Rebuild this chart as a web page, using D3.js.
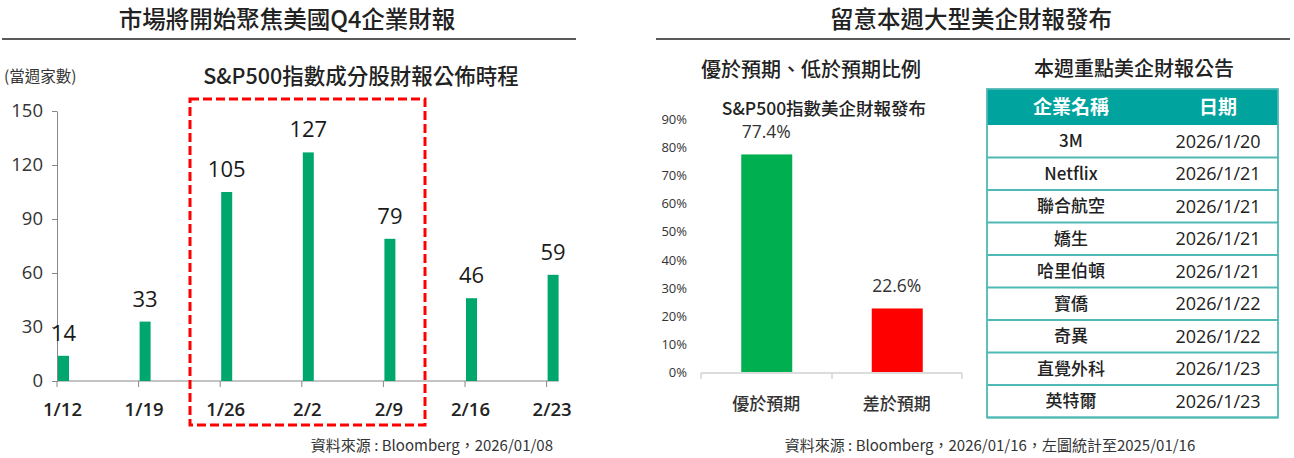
<!DOCTYPE html>
<html>
<head>
<meta charset="utf-8">
<script src="https://cdn.jsdelivr.net/npm/d3@7"></script>
<style>
  body { margin: 0; background: #fff; }
  svg text { font-family: "Noto Sans CJK TC", "Noto Sans", sans-serif; }
</style>
</head>
<body>
<div id="chart"></div>
<script>
////////////////////////////////////////////////////////////////////////
// Data

let weeks = ["1/12", "1/19", "1/26", "2/2", "2/9", "2/16", "2/23"];
let weekCounts = [14, 33, 105, 127, 79, 46, 59];
let countTicks = [0, 30, 60, 90, 120, 150];

let surpriseCats = ["優於預期", "差於預期"];
let surpriseShare = [77.4, 22.6];
let shareTicks = [0, 10, 20, 30, 40, 50, 60, 70, 80, 90];

let companies = ["3M", "Netflix", "聯合航空", "嬌生", "哈里伯頓", "寶僑", "奇異", "直覺外科", "英特爾"];
let reportDates = ["2026/1/20", "2026/1/21", "2026/1/21", "2026/1/21", "2026/1/21",
                   "2026/1/22", "2026/1/22", "2026/1/23", "2026/1/23"];

////////////////////////////////////////////////////////////////////////
// Preliminaries

let svg = d3.select("#chart").append("svg")
  .attr("width", 1294)
  .attr("height", 458);

let latin = "'Open Sans', 'Noto Sans', sans-serif";

function headline(x, y, txt, size, weight) {
  return svg.append("text")
    .attr("x", x).attr("y", y)
    .attr("text-anchor", "middle")
    .attr("font-size", size)
    .attr("font-weight", weight || "normal")
    .attr("fill", "#222")
    .text(txt);
}

// panel titles + rules
headline(287, 28, "市場將開始聚焦美國Q4企業財報", 23.5, "500");
svg.append("line").attr("x1", 2).attr("x2", 576).attr("y1", 39).attr("y2", 39)
  .attr("stroke", "#222").attr("stroke-width", 1.3);
headline(971, 28, "留意本週大型美企財報發布", 23.5, "500");
svg.append("line").attr("x1", 656).attr("x2", 1290).attr("y1", 39).attr("y2", 39)
  .attr("stroke", "#222").attr("stroke-width", 1.3);

////////////////////////////////////////////////////////////////////////
// PART 1 : weekly count bars

let xWeek = d3.scaleBand().domain(weeks).range([57, 57 + 7 * 81.6]);
let yCount = d3.scaleLinear().domain([0, 150]).range([381, 111]);
let barW = 11;

headline(361, 84, "S&P500指數成分股財報公佈時程", 21.5, "500");
svg.append("text").attr("x", 4).attr("y", 82)
  .attr("font-size", 15.5).attr("fill", "#333").text("(當週家數)");

let yAxisL = svg.append("g")
  .attr("transform", "translate(57,0)")
  .call(d3.axisLeft(yCount).tickValues(countTicks).tickSize(5).tickSizeOuter(0));
yAxisL.select(".domain").attr("stroke", "#888");
yAxisL.selectAll(".tick line").attr("stroke", "#888");
yAxisL.selectAll(".tick text")
  .attr("x", -14)
  .attr("font-size", 18.5)
  .attr("fill", "#333")
  .style("font-family", latin);

// x axis line and ticks at the left edge of each bar
let lastX = xWeek(weeks[weeks.length - 1]) + barW + 1;
svg.append("line").attr("x1", 57).attr("x2", lastX)
  .attr("y1", yCount(0)).attr("y2", yCount(0)).attr("stroke", "#888");
svg.append("g").selectAll("line").data(weeks).enter().append("line")
  .attr("x1", d => xWeek(d)).attr("x2", d => xWeek(d))
  .attr("y1", yCount(0)).attr("y2", yCount(0) + 6)
  .attr("stroke", "#888");
svg.append("g").selectAll("text").data(weeks).enter().append("text")
  .attr("x", d => xWeek(d) + barW / 2)
  .attr("y", 416)
  .attr("text-anchor", "middle")
  .attr("font-size", 18.5)
  .attr("font-weight", 600)
  .attr("fill", "#222")
  .style("font-family", latin)
  .text(d => d);

svg.append("g").selectAll("rect").data(weekCounts).enter().append("rect")
  .attr("x", (d, i) => xWeek(weeks[i]) + 1)
  .attr("y", d => yCount(d))
  .attr("width", barW)
  .attr("height", d => yCount(0) - yCount(d))
  .attr("fill", "#00a76d");

svg.append("g").selectAll("text").data(weekCounts).enter().append("text")
  .attr("x", (d, i) => xWeek(weeks[i]) + barW / 2 + 1)
  .attr("y", d => yCount(d) - 15)
  .attr("text-anchor", "middle")
  .attr("font-size", 22)
  .attr("fill", "#1a1a1a")
  .style("font-family", latin)
  .text(d => d);

// highlight box round 1/26 .. 2/9
svg.append("rect")
  .attr("x", 190).attr("y", 99)
  .attr("width", 235).attr("height", 326)
  .attr("fill", "none")
  .attr("stroke", "#ff0000")
  .attr("stroke-width", 3)
  .attr("stroke-dasharray", "9,4");

svg.append("text").attr("x", 553).attr("y", 451)
  .attr("text-anchor", "end").attr("font-size", 15).attr("fill", "#333")
  .text("資料來源 : Bloomberg，2026/01/08");

////////////////////////////////////////////////////////////////////////
// PART 2 : beat / miss share

headline(811, 77, "優於預期、低於預期比例", 20, "500");
headline(824, 115, "S&P500指數美企財報發布", 17.5, "500");

let xCat = d3.scaleBand().domain(surpriseCats).range([701, 962]);
let yShare = d3.scaleLinear().domain([0, 90]).range([372, 119]);

svg.append("g").selectAll("text").data(shareTicks).enter().append("text")
  .attr("x", 687)
  .attr("y", d => yShare(d) + 5)
  .attr("text-anchor", "end")
  .attr("font-size", 13)
  .attr("fill", "#333")
  .style("font-family", latin)
  .text(d => d + "%");

svg.append("line").attr("x1", 701).attr("x2", 962)
  .attr("y1", 373).attr("y2", 373).attr("stroke", "#d0d0d0").attr("stroke-width", 1.3);
svg.append("g").selectAll("line").data([701, 832, 962]).enter().append("line")
  .attr("x1", d => d).attr("x2", d => d)
  .attr("y1", 373).attr("y2", 379)
  .attr("stroke", "#d0d0d0").attr("stroke-width", 1.3);

let shareColor = ["#00b050", "#ff0000"];
svg.append("g").selectAll("rect").data(surpriseShare).enter().append("rect")
  .attr("x", (d, i) => xCat(surpriseCats[i]) + xCat.bandwidth() / 2 - 25)
  .attr("y", d => yShare(d))
  .attr("width", 51)
  .attr("height", d => yShare(0) - yShare(d))
  .attr("fill", (d, i) => shareColor[i]);

svg.append("g").selectAll("text").data(surpriseShare).enter().append("text")
  .attr("x", (d, i) => xCat(surpriseCats[i]) + xCat.bandwidth() / 2)
  .attr("y", d => yShare(d) - 16)
  .attr("text-anchor", "middle")
  .attr("font-size", 17.5)
  .attr("fill", "#333")
  .style("font-family", latin)
  .text(d => d.toFixed(1) + "%");

svg.append("g").selectAll("text").data(surpriseCats).enter().append("text")
  .attr("x", d => xCat(d) + xCat.bandwidth() / 2)
  .attr("y", 410)
  .attr("text-anchor", "middle")
  .attr("font-size", 17)
  .attr("font-weight", "500")
  .attr("fill", "#333")
  .text(d => d);

svg.append("text").attr("x", 990).attr("y", 451)
  .attr("text-anchor", "middle").attr("font-size", 15).attr("fill", "#333")
  .text("資料來源 : Bloomberg，2026/01/16，左圖統計至2025/01/16");

////////////////////////////////////////////////////////////////////////
// PART 3 : earnings calendar table

headline(1134, 76, "本週重點美企財報公告", 20, "500");

let tX = 987, tW = 291, headTop = 89, headH = 36, rowH = 32.5;
let colName = 1071, colDate = 1218;
let teal = "#00a39e", rule = "#4fb9b5";

svg.append("rect").attr("x", tX).attr("y", headTop)
  .attr("width", tW).attr("height", headH).attr("fill", teal);
svg.append("text").attr("x", colName).attr("y", headTop + 25)
  .attr("text-anchor", "middle").attr("font-size", 19).attr("font-weight", "bold")
  .attr("fill", "#fff").text("企業名稱");
svg.append("text").attr("x", colDate).attr("y", headTop + 25)
  .attr("text-anchor", "middle").attr("font-size", 19).attr("font-weight", "bold")
  .attr("fill", "#fff").text("日期");

let rowTop = headTop + headH;
let rows = svg.append("g").selectAll("g").data(companies).enter().append("g")
  .attr("transform", (d, i) => "translate(0," + (rowTop + i * rowH) + ")");

rows.append("line")
  .attr("x1", tX).attr("x2", tX + tW)
  .attr("y1", rowH).attr("y2", rowH)
  .attr("stroke", rule).attr("stroke-width", 1.8);
rows.append("text")
  .attr("x", colName).attr("y", rowH / 2 + 6)
  .attr("text-anchor", "middle").attr("font-size", 17).attr("font-weight", "500")
  .attr("fill", "#222")
  .text(d => d);
rows.append("text")
  .attr("x", colDate).attr("y", rowH / 2 + 6.5)
  .attr("text-anchor", "middle").attr("font-size", 18).attr("font-weight", "500")
  .attr("fill", "#222")
  .style("font-family", latin)
  .text((d, i) => reportDates[i]);

// outer frame
svg.append("rect").attr("x", tX).attr("y", headTop)
  .attr("width", tW).attr("height", headH + companies.length * rowH)
  .attr("fill", "none").attr("stroke", rule).attr("stroke-width", 1.8);
</script>
</body>
</html>
